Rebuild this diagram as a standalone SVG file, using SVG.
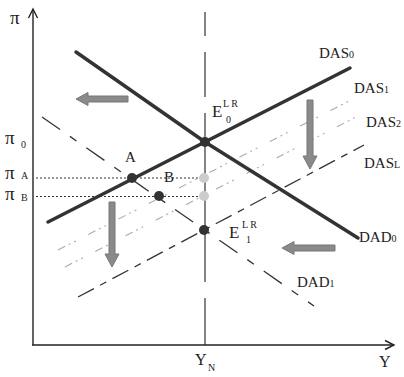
<svg xmlns="http://www.w3.org/2000/svg" width="404" height="377" viewBox="0 0 404 377">
<defs>
<style>
.ax{stroke:#222;stroke-width:1.4;fill:none}
.thick{stroke:#333;stroke-width:3.5;fill:none;stroke-linecap:round;stroke-linejoin:round}
.dad1{stroke:#333;stroke-width:1.3;fill:none;stroke-dasharray:22 12 8 12}
.dasl{stroke:#333;stroke-width:1.3;fill:none;stroke-dasharray:18 7 7 7}
.light{stroke:#aaa;stroke-width:1.1;fill:none;stroke-dasharray:8 4 2 4 2 14}
.dot{stroke:#333;stroke-width:1;fill:none;stroke-dasharray:2 2}
.vl{stroke:#333;stroke-width:1.2}
.garrow{fill:#8a8a8a;stroke:#777;stroke-width:1;stroke-linejoin:round}
text{font-family:"Liberation Serif","DejaVu Serif",serif;fill:#222}
.lab{font-size:15px}
.sub{font-size:10px}
.pi{font-size:19px}
</style>
</defs>
<g id="axes">
<line class="ax" x1="33" y1="345" x2="33" y2="9"/>
<polyline class="ax" points="28.5,18 33,9 37.5,18"/>
<line class="ax" x1="32" y1="345" x2="394" y2="345"/>
<polyline class="ax" points="385,340.5 394,345 385,349.5"/>
</g>
<g id="connectors">
<line class="vl" x1="205" y1="12" x2="205" y2="36"/>
<line class="vl" x1="205" y1="52" x2="205" y2="97"/>
<line class="vl" x1="205" y1="113" x2="205" y2="282"/>
<line class="vl" x1="205" y1="298" x2="205" y2="345"/>
<line class="dot" x1="36" y1="178" x2="204" y2="178"/>
<line class="dot" x1="36" y1="196.5" x2="204" y2="196.5"/>
<line class="light" x1="58" y1="250" x2="351" y2="100"/>
<line class="light" x1="65" y1="267" x2="356" y2="117"/>
<line class="dasl" x1="78" y1="297" x2="364" y2="145"/>
<line class="dad1" x1="42" y1="117" x2="314" y2="306"/>
<path class="thick" d="M76,52 L205,142 L358,238"/>
<line class="thick" x1="48" y1="222" x2="350" y2="68"/>
</g>
<g id="shift-arrows">
<path class="garrow" d="M76,99 L88,92.5 L88,96 L128,96 L128,102 L88,102 L88,105.5 Z"/>
<path class="garrow" d="M282,248 L294,241.5 L294,245 L335,245 L335,251 L294,251 L294,254.5 Z"/>
<path class="garrow" d="M310,169 L303,156 L307,156 L307,100 L313,100 L313,156 L317,156 Z"/>
<path class="garrow" d="M112,267 L105,254 L109,254 L109,202 L115,202 L115,254 L119,254 Z"/>
</g>
<g id="points">
<circle id="E0" cx="205" cy="142" r="5" fill="#333"/>
<circle id="A" cx="132" cy="178" r="5" fill="#333"/>
<circle id="B" cx="159" cy="196" r="5" fill="#333"/>
<circle id="E1" cx="204" cy="230" r="5" fill="#333"/>
<circle id="G1" cx="204" cy="178" r="5" fill="#ccc"/>
<circle id="G2" cx="204" cy="196" r="5" fill="#ccc"/>
</g>
<g id="labels">
<text x="10" y="24" class="pi">π</text>
<text x="5" y="144" class="pi">π</text><text x="21" y="148" class="sub">0</text>
<text x="5" y="179" class="pi">π</text><text x="21" y="179" class="sub">A</text>
<text x="5" y="200" class="pi">π</text><text x="21" y="201" class="sub">B</text>
<text x="125" y="162" class="lab">A</text>
<text x="164" y="182" class="lab">B</text>
<text x="212" y="117" font-size="17">E</text><text x="223" y="107" class="sub">L R</text><text x="226" y="123" class="sub">0</text>
<text x="229" y="238" font-size="17">E</text><text x="242" y="228" class="sub">L R</text><text x="246" y="243" class="sub">1</text>
<text x="319" y="58" class="lab">DAS<tspan class="sub">0</tspan></text>
<text x="354" y="93" class="lab">DAS<tspan class="sub">1</tspan></text>
<text x="366" y="127" class="lab">DAS<tspan class="sub">2</tspan></text>
<text x="364" y="168" class="lab">DAS<tspan class="sub">L</tspan></text>
<text x="359" y="242" class="lab">DAD<tspan class="sub">0</tspan></text>
<text x="297" y="287" class="lab">DAD<tspan class="sub">1</tspan></text>
<text x="195" y="365" font-size="16">Y</text><text x="208" y="371" font-size="10">N</text>
<text x="379" y="367" font-size="16">Y</text>
</g>
</svg>
